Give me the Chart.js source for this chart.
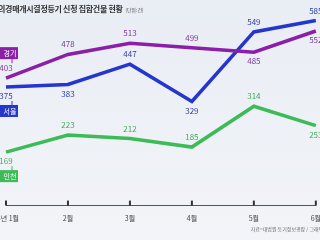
<!DOCTYPE html>
<html>
<head>
<meta charset="utf-8">
<script src="https://cdn.jsdelivr.net/npm/chart.js@4.4.1/dist/chart.umd.min.js"></script>
<style>
  html, body { margin: 0; padding: 0; }
  body {
    width: 320px; height: 240px; overflow: hidden; position: relative;
    background: linear-gradient(#e9edf4, #f2f4f8);
    font-family: "Noto Sans CJK KR", sans-serif;
  }
  #wrap { position: absolute; left: -50px; top: 0; width: 380px; height: 240px; }
  #title {
    position: absolute; left: -9px; top: 3px; white-space: nowrap;
    font-size: 8px; font-weight: bold; color: #333; letter-spacing: -0.3px;
  }
  #title small { font-size: 5px; font-weight: normal; color: #555; margin-left: 3px; }
  #source {
    position: absolute; right: -6px; top: 225px; white-space: nowrap;
    font-size: 5px; color: #666;
  }
</style>
</head>
<body>
<div id="wrap"><canvas id="myChart" width="380" height="240"></canvas></div>
<div id="title">임의경매개시결정등기 신청 집합건물 현황<small>(단위: 건)</small></div>
<div id="source">자료=대법원 등기정보광장 / 그래픽=</div>
<script>
'use strict';

// Data
let months = ['24년 1월', '2월', '3월', '4월', '5월', '6월'];
let seriesNames = ['경기', '서울', '인천'];
let gyeonggi = [403, 478, 513, 499, 485, 552];
let seoul = [375, 383, 447, 329, 549, 585];
let incheon = [169, 223, 212, 185, 314, 253];

let colors = ['#8b1fa8', '#2536cc', '#3dbb57'];
let labelColors = ['#7b3a9e', '#3140a6', '#45a85c'];
// where each value label sits: 'a' above, 'b' below
let labelSide = [
  ['a', 'a', 'a', 'a', 'b', 'b'],
  ['b', 'b', 'a', 'b', 'a', 'a'],
  ['b', 'a', 'a', 'a', 'a', 'b']
];
// name box above or below the first point
let boxSide = ['a', 'b', 'b'];

// value labels + series name boxes
let labelPlugin = {
  id: 'labels',
  afterDatasetsDraw(chart) {
    let ctx = chart.ctx;
    ctx.save();
    ctx.textAlign = 'center';
    ctx.textBaseline = 'middle';
    chart.data.datasets.forEach((ds, i) => {
      let meta = chart.getDatasetMeta(i);
      ctx.font = '8px "Noto Sans CJK KR", sans-serif';
      meta.data.forEach((pt, j) => {
        let dy = labelSide[i][j] === 'a' ? -10 : 9;
        ctx.fillStyle = labelColors[i];
        ctx.fillText(ds.data[j], pt.x, pt.y + dy);
      });
      // name box
      let first = meta.data[0];
      let by = boxSide[i] === 'a' ? first.y - 25 : first.y + 24;
      ctx.strokeStyle = colors[i];
      ctx.lineWidth = 1;
      ctx.beginPath();
      ctx.moveTo(first.x + 6, boxSide[i] === 'a' ? by + 6 : by - 6);
      ctx.lineTo(first.x + 6, boxSide[i] === 'a' ? by + 10 : by - 10);
      ctx.stroke();
      ctx.fillStyle = colors[i];
      ctx.fillRect(first.x - 16, by - 6, 28, 12);
      ctx.fillStyle = '#ffffff';
      ctx.font = '7px "Noto Sans CJK KR", sans-serif';
      ctx.fillText(seriesNames[i], first.x + 4, by + 0.5);
    });
    ctx.restore();
  }
};

// small tick marks standing on the axis line
let tickPlugin = {
  id: 'ticksUp',
  afterDraw(chart) {
    let ctx = chart.ctx;
    let xs = chart.scales.x;
    let bottom = chart.chartArea.bottom;
    ctx.save();
    ctx.strokeStyle = '#333';
    ctx.lineWidth = 2;
    xs.ticks.forEach((t, k) => {
      let x = xs.getPixelForTick(k);
      ctx.beginPath();
      ctx.moveTo(x, bottom - 5);
      ctx.lineTo(x, bottom);
      ctx.stroke();
    });
    ctx.restore();
  }
};

function chart() {
  let ctx = document.getElementById('myChart');
  // eslint-disable-next-line no-undef
  let myChart = new Chart(ctx, {
    type: 'line',
    data: {
      labels: months,
      datasets: [gyeonggi, seoul, incheon].map((d, i) => ({
        label: seriesNames[i],
        data: d,
        borderColor: colors[i],
        borderWidth: 3.5,
        pointRadius: 0,
        tension: 0,
        fill: false
      }))
    },
    options: {
      responsive: false,
      animation: false,
      layout: { padding: { left: 56, right: 10, top: 0, bottom: 8 } },
      plugins: { legend: { display: false }, tooltip: { enabled: false } },
      scales: {
        x: {
          offset: false,
          grid: { display: false, drawTicks: false },
          border: { display: true, color: '#555', width: 1 },
          ticks: {
            padding: 9,
            color: '#444',
            font: { size: 7, family: '"Noto Sans CJK KR", sans-serif' },
            maxRotation: 0,
            autoSkip: false
          }
        },
        y: { display: false, min: 0, max: 650 }
      }
    },
    plugins: [labelPlugin, tickPlugin]
  });
}
chart();
</script>
</body>
</html>
